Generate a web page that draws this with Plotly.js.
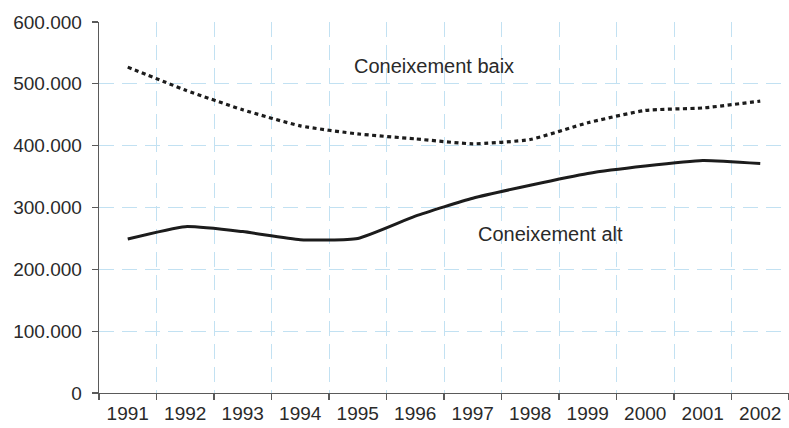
<!DOCTYPE html>
<html>
<head>
<meta charset="utf-8">
<script src="https://cdn.plot.ly/plotly-3.0.1.min.js"></script>
<style>html,body{margin:0;padding:0;background:#fff;}#chart{width:789px;height:428px;}</style>
</head>
<body>
<div id="chart"></div>
<script>
var years = ['1991','1992','1993','1994','1995','1996','1997','1998','1999','2000','2001','2002'];
var baix = [527000, 490000, 458000, 432000, 419000, 411000, 403000, 410000, 437000, 457000, 461000, 472000];
var alt  = [249000, 269000, 261000, 248000, 250000, 286000, 315000, 336000, 355000, 367000, 376000, 371000];
var yTicks = [0, 100000, 200000, 300000, 400000, 500000, 600000];
var yTickText = ['0', '100.000', '200.000', '300.000', '400.000', '500.000', '600.000'];
var labelBaix = 'Coneixement baix';
var labelAlt = 'Coneixement alt';

var fontFam = '"Liberation Sans", Arial, Helvetica, sans-serif';
var traces = [
  {x: years, y: baix, type: 'scatter', mode: 'lines', name: labelBaix,
   line: {color: '#1c1c1c', width: 3.2, dash: '4px,3.5px', shape: 'spline', smoothing: 0.5}},
  {x: years, y: alt, type: 'scatter', mode: 'lines', name: labelAlt,
   line: {color: '#1c1c1c', width: 3, shape: 'spline', smoothing: 0.5}}
];
var layout = {
  width: 789, height: 428,
  margin: {l: 99, r: 0, t: 22, b: 35},
  paper_bgcolor: '#fff', plot_bgcolor: '#fff',
  showlegend: false,
  font: {family: fontFam, size: 19, color: '#2a2a2a'},
  xaxis: {
    type: 'category', tickson: 'boundaries',
    range: [-0.5, 11.5],
    showline: true, linecolor: '#5a5a5a', linewidth: 1.3,
    ticks: 'outside', ticklen: 6, tickcolor: '#5a5a5a', tickwidth: 1.3,
    ticklabelstandoff: 3,
    showgrid: true, gridcolor: '#c2e1f2', gridwidth: 1, griddash: '15px,8px',
    zeroline: false, fixedrange: true,
    tickfont: {family: fontFam, size: 19, color: '#2a2a2a'}
  },
  yaxis: {
    range: [0, 600000],
    tickvals: yTicks, ticktext: yTickText,
    showline: true, linecolor: '#5a5a5a', linewidth: 1.3,
    ticks: 'outside', ticklen: 6, tickcolor: '#5a5a5a', tickwidth: 1.3,
    ticklabelstandoff: 6,
    showgrid: true, gridcolor: '#c2e1f2', gridwidth: 1, griddash: '15px,8px',
    zeroline: false, fixedrange: true,
    tickfont: {family: fontFam, size: 19, color: '#2a2a2a'}
  },
  annotations: [
    {x: 5.33, y: 529000, xref: 'x', yref: 'y', text: labelBaix, showarrow: false,
     font: {family: fontFam, size: 20, color: '#2a2a2a'}},
    {x: 7.35, y: 257000, xref: 'x', yref: 'y', text: labelAlt, showarrow: false,
     font: {family: fontFam, size: 20, color: '#2a2a2a'}}
  ]
};
Plotly.newPlot('chart', traces, layout, {displayModeBar: false, staticPlot: true});
</script>
</body>
</html>
